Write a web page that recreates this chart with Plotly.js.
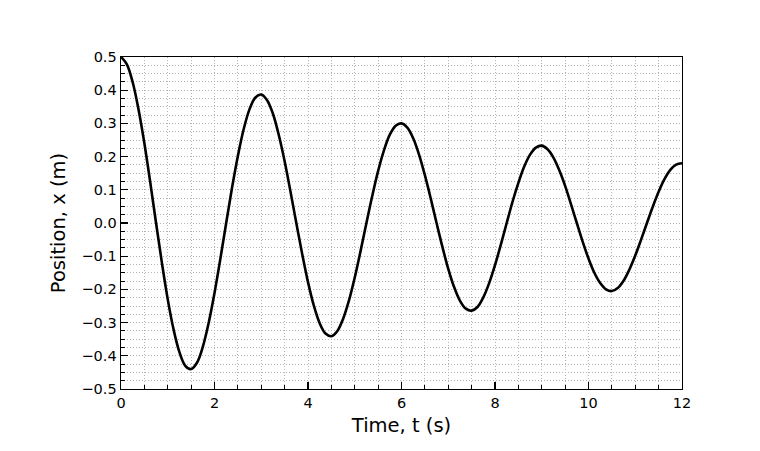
<!DOCTYPE html>
<html>
<head>
<meta charset="utf-8">
<script src="https://cdn.plot.ly/plotly-3.0.1.min.js"></script>
<style>html,body{margin:0;padding:0;background:#fff;}#chart{width:760px;height:451px;}</style>
</head>
<body>
<div id="chart"></div>
<script>
var timeS = [0,0.125,0.25,0.375,0.5,0.625,0.75,0.875,1,1.125,1.25,1.375,1.5,1.625,1.75,1.875,2,2.125,2.25,2.375,2.5,2.625,2.75,2.875,3,3.125,3.25,3.375,3.5,3.625,3.75,3.875,4,4.125,4.25,4.375,4.5,4.625,4.75,4.875,5,5.125,5.25,5.375,5.5,5.625,5.75,5.875,6,6.125,6.25,6.375,6.5,6.625,6.75,6.875,7,7.125,7.25,7.375,7.5,7.625,7.75,7.875,8,8.125,8.25,8.375,8.5,8.625,8.75,8.875,9,9.125,9.25,9.375,9.5,9.625,9.75,9.875,10,10.125,10.25,10.375,10.5,10.625,10.75,10.875,11,11.125,11.25,11.375,11.5,11.625,11.75,11.875,12];
var positionM = [0.500,0.478,0.424,0.342,0.240,0.123,0.000,-0.120,-0.230,-0.321,-0.389,-0.430,-0.440,-0.421,-0.373,-0.301,-0.211,-0.108,0.000,0.106,0.202,0.283,0.343,0.378,0.387,0.370,0.329,0.265,0.186,0.095,0.000,-0.093,-0.178,-0.249,-0.302,-0.333,-0.341,-0.326,-0.289,-0.234,-0.164,-0.084,0.000,0.082,0.157,0.219,0.266,0.293,0.300,0.287,0.255,0.206,0.144,0.074,0.000,-0.072,-0.138,-0.193,-0.234,-0.258,-0.264,-0.253,-0.224,-0.181,-0.127,-0.065,0.000,0.064,0.121,0.170,0.206,0.227,0.233,0.222,0.197,0.159,0.112,0.057,0.000,-0.056,-0.107,-0.150,-0.181,-0.200,-0.205,-0.196,-0.174,-0.140,-0.098,-0.050,0.000,0.049,0.094,0.132,0.160,0.176,0.180];
var xTitle = 'Time, t (s)';
var yTitle = 'Position, x (m)';

var gridCol = '#b4b4b4';
var gridDash = '1px,2px';
var font = 'DejaVu Sans, sans-serif';

var trace = {
  x: timeS, y: positionM, type: 'scatter', mode: 'lines',
  line: {color: '#000', width: 2.6, shape: 'spline', smoothing: 1},
  hoverinfo: 'skip'
};

var layout = {
  width: 760, height: 451,
  margin: {l: 121, r: 78, t: 57, b: 62},
  paper_bgcolor: '#fff', plot_bgcolor: '#fff',
  showlegend: false,
  font: {family: font, color: '#000', size: 14.5},
  xaxis: {
    range: [0, 12], dtick: 2, tick0: 0,
    ticks: 'inside', ticklen: 7, tickwidth: 1.2, tickcolor: '#000',
    showline: true, linecolor: '#000', linewidth: 1.4, mirror: true,
    showgrid: true, gridcolor: gridCol, griddash: gridDash, gridwidth: 1,
    zeroline: false,
    tickfont: {family: font, size: 14.5},
    title: {text: xTitle, font: {family: font, size: 19.5}, standoff: 8},
    minor: {dtick: 0.5, ticks: 'inside', ticklen: 4, tickwidth: 1, tickcolor: '#000',
            showgrid: true, gridcolor: gridCol, griddash: gridDash, gridwidth: 1}
  },
  yaxis: {
    range: [-0.5, 0.5], dtick: 0.1, tick0: 0, tickformat: '.1f',
    ticks: 'inside', ticklen: 7, tickwidth: 1.2, tickcolor: '#000',
    showline: true, linecolor: '#000', linewidth: 1.4, mirror: true,
    showgrid: true, gridcolor: gridCol, griddash: gridDash, gridwidth: 1,
    zeroline: false,
    tickfont: {family: font, size: 14.5},
    title: {text: yTitle, font: {family: font, size: 19.5}, standoff: 10},
    minor: {dtick: 0.025, ticks: 'inside', ticklen: 4, tickwidth: 1, tickcolor: '#000',
            showgrid: true, gridcolor: gridCol, griddash: gridDash, gridwidth: 1}
  }
};

Plotly.newPlot('chart', [trace], layout, {staticPlot: true, displayModeBar: false});
</script>
</body>
</html>
